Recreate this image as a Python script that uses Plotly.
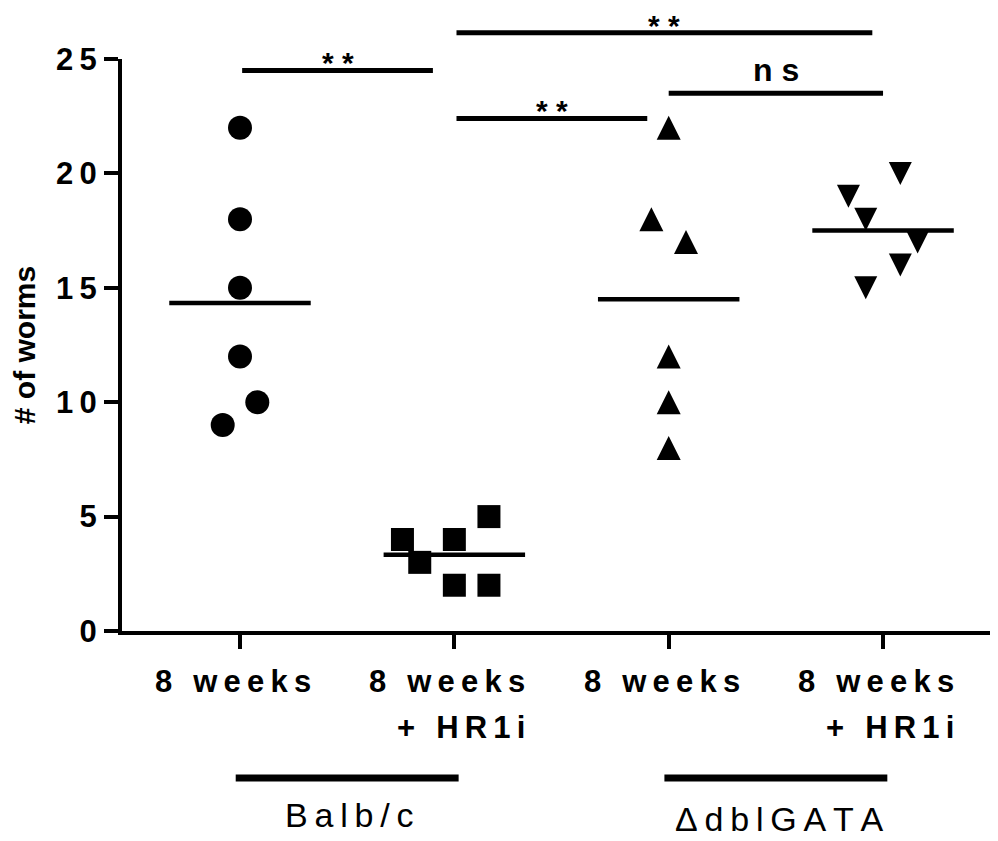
import numpy as np
import plotly.graph_objects as go

# ---------------- data ----------------
group_labels = ["8 weeks", "8 weeks + HR1i", "8 weeks", "8 weeks + HR1i"]
tick_line1 = ["8 weeks", "8 weeks", "8 weeks", "8 weeks"]
tick_line2 = ["", "+ HR1i", "", "+ HR1i"]

balbc_8wk = [22, 18, 15, 12, 10, 9]
balbc_8wk_hr1i = [4, 3, 4, 5, 2, 2]
dbl_8wk = [22, 18, 17, 12, 10, 8]
dbl_8wk_hr1i = [20, 19, 18, 17, 16, 15]

# horizontal scatter offsets of the points (in units of half a marker)
balbc_8wk_off = [0, 0, 0, 0, 1, -1]
balbc_8wk_hr1i_off = [-3, -2, 0, 2, 0, 2]
dbl_8wk_off = [0, -1, 1, 0, 0, 0]
dbl_8wk_hr1i_off = [1, -2, -1, 2, 1, -1]

# significance comparisons: (from, to, height in y units, label)
sig_x0 = [1.01, 0.01, 2.0, 1.01]
sig_x1 = [2.95, 0.90, 3.0, 1.90]
sig_y = [26.15, 24.5, 23.5, 22.4]
sig_text = ["**", "**", "ns", "**"]

# strain groups
strain_names = ["Balb/c", "ΔdblGATA"]
strain_from = [0, 2]
strain_to = [1, 3]

y_ticks = [0, 5, 10, 15, 20, 25]
y_title = "# of worms"

# ---------------- styling ----------------
FONT = "Liberation Sans, Arial, Helvetica, sans-serif"
X_RANGE = [-0.5505, 3.499]
Y_RANGE = [0, 25]
JIT = 0.0807
MEAN_HALF = 0.33
THIN = "\u2009"


def track(s, gap=THIN):
    out = []
    for c in s:
        out.append("\u00a0" if c == " " else c)
    return gap.join(out)


def xpaper(x):
    return (x - X_RANGE[0]) / (X_RANGE[1] - X_RANGE[0])


series = [
    (balbc_8wk, balbc_8wk_off, "circle", 0, 0, 24),
    (balbc_8wk_hr1i, balbc_8wk_hr1i_off, "square", 0, 0, 23),
    (dbl_8wk, dbl_8wk_off, "arrow-down", 180, 12, 24),
    (dbl_8wk_hr1i, dbl_8wk_hr1i_off, "arrow-down", 0, 11.5, 23),
]

fig = go.Figure()
for i, (vals, offs, sym, ang, so, sz) in enumerate(series):
    xs = [i + o * JIT for o in offs]
    fig.add_trace(go.Scatter(
        x=xs, y=vals, mode="markers", name=group_labels[i],
        marker=dict(symbol=sym, size=sz, color="black", angle=ang, standoff=so,
                    line=dict(width=0)),
        cliponaxis=False, showlegend=False,
    ))
    m = float(np.mean(vals))
    fig.add_trace(go.Scatter(
        x=[i - MEAN_HALF, i + MEAN_HALF], y=[m, m], mode="lines",
        line=dict(color="black", width=4.5), showlegend=False, hoverinfo="skip",
    ))

shapes = []
annotations = []

# significance bars
for x0, x1, yv, t in zip(sig_x0, sig_x1, sig_y, sig_text):
    yp = yv / Y_RANGE[1]
    shapes.append(dict(type="line", xref="paper", yref="paper",
                       x0=xpaper(x0), x1=xpaper(x1), y0=yp, y1=yp,
                       line=dict(color="black", width=5)))
    is_ns = t == "ns"
    annotations.append(dict(
        text=track(t, "\u00a0"),
        xref="paper", yref="paper", x=xpaper((x0 + x1) / 2), y=yp,
        xanchor="center", yanchor="bottom", showarrow=False,
        yshift=3 if is_ns else -11,
        font=dict(family=FONT, size=32 if is_ns else 30, color="black",
                  weight="bold"),
    ))

# category labels below axis
for i in range(4):
    annotations.append(dict(
        text=track(tick_line1[i]), xref="x", yref="paper", x=i, y=0,
        xanchor="right", yanchor="middle", xshift=73, yshift=-50,
        showarrow=False,
        font=dict(family=FONT, size=31, color="black", weight="bold"),
    ))
    if tick_line2[i]:
        annotations.append(dict(
            text=track(tick_line2[i]), xref="x", yref="paper", x=i, y=0,
            xanchor="right", yanchor="middle", xshift=73, yshift=-96,
            showarrow=False,
            font=dict(family=FONT, size=31, color="black", weight="bold"),
        ))

# strain group bars and names
for name, a, b, xs_, ys_ in zip(strain_names, strain_from, strain_to,
                                [2, 4], [-184, -188]):
    shapes.append(dict(type="line", xref="paper", yref="paper",
                       ysizemode="pixel", yanchor=0,
                       x0=xpaper(a - 0.02), x1=xpaper(b + 0.02), y0=-147, y1=-147,
                       line=dict(color="black", width=7)))
    annotations.append(dict(
        text=track(name), xref="paper", yref="paper",
        x=xpaper((a + b) / 2), y=0, xanchor="center", yanchor="middle",
        xshift=xs_, yshift=ys_, showarrow=False, borderpad=0,
        font=dict(family=FONT, size=34, color="black"),
    ))

fig.update_layout(
    width=990, height=833,
    margin=dict(l=114, r=8, t=51, b=210),
    paper_bgcolor="white", plot_bgcolor="white",
    shapes=shapes, annotations=annotations,
    font=dict(family=FONT, color="black"),
    xaxis=dict(range=X_RANGE, tickvals=[0, 1, 2, 3], showticklabels=False,
               ticks="outside", ticklen=14, tickwidth=4, tickcolor="black",
               showline=True, linewidth=4, linecolor="black",
               showgrid=False, zeroline=False),
    yaxis=dict(range=Y_RANGE, tickvals=y_ticks,
               ticktext=[track(str(v)) for v in y_ticks],
               ticks="outside", ticklen=14,
               tickwidth=4, tickcolor="black", showline=True, linewidth=4,
               linecolor="black", showgrid=False, zeroline=False,
               ticklabelstandoff=1,
               tickfont=dict(family=FONT, size=31, color="black", weight="bold"),
               title=dict(text=y_title, standoff=18,
                          font=dict(family=FONT, size=30, color="black",
                                    weight="bold"))),
)

fig.write_html("out.html")
